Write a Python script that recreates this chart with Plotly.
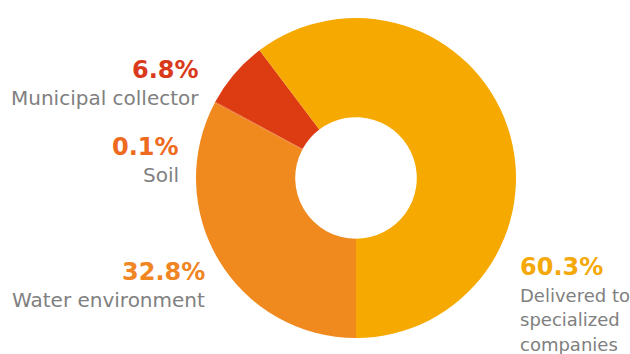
import plotly.graph_objects as go

# 처리 방식별 비중 (%), clockwise order starting near the bottom
labels = ["Water environment", "Soil", "Municipal collector", "Delivered to specialized companies"]
values = [32.8, 0.1, 6.8, 60.3]
colors = ["#F08A1F", "#EC6A1C", "#DD3B12", "#F6A900"]
pct_colors = ["#F08523", "#EE6A20", "#DA3A1C", "#F5A80A"]

W, H = 630, 354

fig = go.Figure()
fig.add_trace(go.Pie(
    labels=labels,
    values=values,
    hole=0.38,
    sort=False,
    direction="clockwise",
    rotation=180,
    marker=dict(colors=colors, line=dict(width=0)),
    textinfo="none",
    showlegend=False,
    domain=dict(x=[196 / W, 516 / W], y=[1 - 338 / H, 1 - 18 / H]),
))

# label placement (pixels): x edge, y of % line, anchor, name lines, name size
label_pos = [
    (207, 272, "right", ["Water environment"], 20),
    (181, 147, "right", ["Soil"], 20),
    (201, 70, "right", ["Municipal collector"], 20),
    (518, 267, "left", ["Delivered to", "specialized", "companies"], 18),
]

annotations = []
for (px, py, anchor, lines, fs), v, c in zip(label_pos, values, pct_colors):
    annotations.append(dict(
        x=px / W, y=1 - py / H, xref="paper", yref="paper",
        xanchor=anchor, yanchor="middle", showarrow=False,
        text=f"<b>{v:.1f}%</b>",
        font=dict(family="DejaVu Sans", size=24, color=c),
    ))
    for i, line in enumerate(lines):
        annotations.append(dict(
            x=px / W, y=1 - (py + 28 + 24.5 * i) / H, xref="paper", yref="paper",
            xanchor=anchor, yanchor="middle", showarrow=False,
            text=line,
            font=dict(family="DejaVu Sans", size=fs, color="#808080"),
        ))

fig.update_layout(
    width=W, height=H,
    margin=dict(l=0, r=0, t=0, b=0),
    paper_bgcolor="white",
    plot_bgcolor="white",
    annotations=annotations,
)

fig.write_html("out.html", config={"displayModeBar": False},
               post_script="document.body.style.margin='0';")
